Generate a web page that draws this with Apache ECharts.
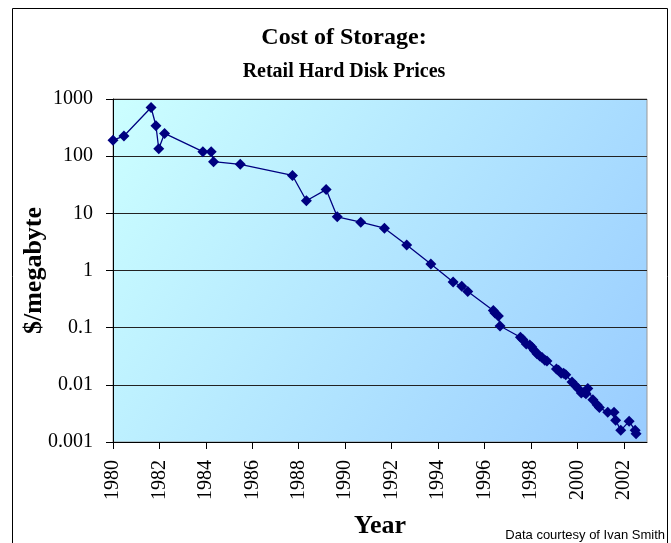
<!DOCTYPE html>
<html>
<head>
<meta charset="utf-8">
<script src="https://cdn.jsdelivr.net/npm/echarts@6/dist/echarts.min.js"></script>
<style>
  html, body { margin: 0; padding: 0; background: #fff; }
  #chart { width: 671px; height: 543px; }
</style>
</head>
<body>
<div id="chart"></div>
<script>
// date of each price sample (decimal year)
var years = [
  1980.0, 1980.47, 1981.64, 1981.85, 1981.97, 1982.22, 1983.87, 1984.23, 1984.33, 1985.48,
  1987.73, 1988.33, 1989.18, 1989.66, 1990.67, 1991.69, 1992.65, 1993.69, 1994.65, 1995.02,
  1995.28, 1996.38, 1996.45, 1996.6, 1996.67, 1997.55, 1997.65, 1997.8, 1997.95, 1998.04,
  1998.15, 1998.26, 1998.38, 1998.48, 1998.6, 1998.69, 1999.1, 1999.19, 1999.3, 1999.41,
  1999.5, 1999.77, 1999.9, 2000.03, 2000.17, 2000.3, 2000.37, 2000.45, 2000.67, 2000.85,
  2000.95, 2001.31, 2001.58, 2001.65, 2001.87, 2002.23, 2002.49, 2002.53
];
// dollars per megabyte
var prices = [
  190, 225, 710, 340, 135, 250, 120, 120, 80, 72,
  46, 16.6, 26, 8.7, 7.0, 5.5, 2.8, 1.3, 0.63, 0.53,
  0.43, 0.20, 0.18, 0.16, 0.107, 0.068, 0.062, 0.052, 0.05, 0.046,
  0.04, 0.035, 0.032, 0.030, 0.027, 0.026, 0.019, 0.018, 0.016, 0.016,
  0.015, 0.0112, 0.0098, 0.0086, 0.0072, 0.0074, 0.0070, 0.0086, 0.0055, 0.0045,
  0.0040, 0.0033, 0.0033, 0.0024, 0.0016, 0.0023, 0.0016, 0.0014
];
var yearTicks = [1980, 1982, 1984, 1986, 1988, 1990, 1992, 1994, 1996, 1998, 2000, 2002];
var priceTicks = ['0.001', '0.01', '0.1', '1', '10', '100', '1000'];

var points = years.map(function (y, i) { return [y, prices[i]]; });

var serif = '"Liberation Serif", "Times New Roman", serif';
var chart = echarts.init(document.getElementById('chart'));
chart.setOption({
  animation: false,
  title: {
    text: 'Cost of Storage:',
    subtext: 'Retail Hard Disk Prices',
    left: 339,
    textAlign: 'center',
    top: 21,
    itemGap: 12,
    textStyle: { fontFamily: serif, fontWeight: 'bold', fontSize: 24, color: '#000' },
    subtextStyle: { fontFamily: serif, fontWeight: 'bold', fontSize: 20, color: '#000' }
  },
  graphic: [
    {
      type: 'rect',
      shape: { x: 12.5, y: 8.5, width: 655, height: 545 },
      style: { fill: null, stroke: '#000', lineWidth: 1 },
      silent: true
    },
    {
      type: 'text',
      right: 6,
      top: 529,
      style: {
        text: 'Data courtesy of Ivan Smith',
        font: '13px "Liberation Sans", Arial, sans-serif',
        fill: '#000'
      }
    }
  ],
  grid: {
    left: 113, right: 24, top: 99, bottom: 101,
    outerBoundsMode: 'none',
    containLabel: false,
    show: true,
    borderColor: '#999',
    borderWidth: 1,
    backgroundColor: new echarts.graphic.LinearGradient(0, 0, 1, 1, [
      { offset: 0, color: '#ccffff' },
      { offset: 1, color: '#99ccff' }
    ])
  },
  xAxis: {
    type: 'value',
    min: 1980,
    max: 2003,
    interval: 2,
    name: 'Year',
    nameLocation: 'middle',
    nameGap: 71,
    nameMoveOverlap: false,
    nameTextStyle: { fontFamily: serif, fontWeight: 'bold', fontSize: 26, color: '#000' },
    axisLine: { show: true, lineStyle: { color: '#000', width: 1 } },
    axisTick: { show: true, length: 7, lineStyle: { color: '#000' }, customValues: yearTicks },
    axisLabel: {
      rotate: 90,
      margin: 18,
      customValues: yearTicks,
      fontFamily: serif,
      fontSize: 20,
      color: '#000',
      formatter: function (v) { return String(v); }
    },
    splitLine: { show: false }
  },
  yAxis: {
    type: 'log',
    logBase: 10,
    min: 0.001,
    max: 1000,
    name: '$/megabyte',
    nameLocation: 'middle',
    nameGap: 66,
    nameMoveOverlap: false,
    nameTextStyle: { fontFamily: serif, fontWeight: 'bold', fontSize: 26, color: '#000' },
    axisLine: { show: true, lineStyle: { color: '#000', width: 1 } },
    axisTick: { show: true, length: 7, lineStyle: { color: '#000' } },
    axisLabel: {
      margin: 20,
      fontFamily: serif,
      fontSize: 20,
      color: '#000',
      formatter: function (v) {
        var k = Math.round(Math.log10(v)) + 3;
        return priceTicks[k] || '';
      }
    },
    splitLine: { show: true, lineStyle: { color: '#222', width: 1 } }
  },
  series: [{
    type: 'line',
    data: points,
    symbol: 'diamond',
    symbolSize: 11,
    showAllSymbol: true,
    itemStyle: { color: '#000080' },
    lineStyle: { color: '#000080', width: 1.3 }
  }]
});
</script>
</body>
</html>
